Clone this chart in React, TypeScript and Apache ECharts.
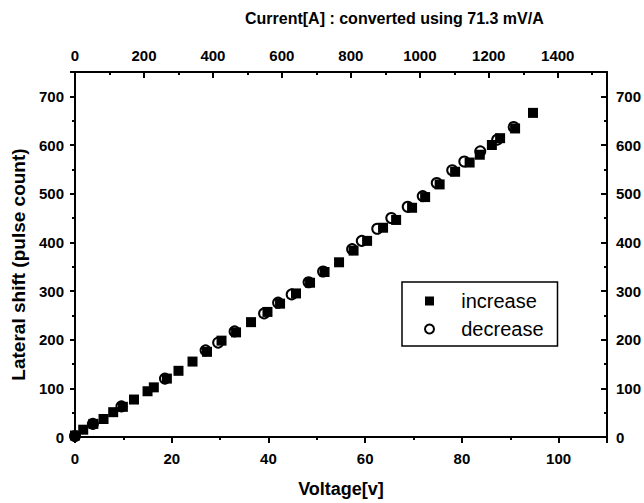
import React, { useEffect, useRef } from 'react';
import * as echarts from 'echarts';

// ---- data ----
const voltageIncrease = [0, 1.7, 3.8, 5.9, 7.9, 9.9, 12.2, 15.0, 16.3, 19.0, 21.4, 24.3, 27.3, 30.3, 33.3, 36.4, 39.8, 42.4, 45.7, 48.6, 51.6, 54.6, 57.6, 60.4, 63.7, 66.4, 69.7, 72.4, 75.4, 78.6, 81.6, 83.7, 86.2, 87.9, 91.0, 94.7];
const shiftIncrease = [3, 15, 27, 37, 51, 62, 77, 94, 102, 120, 136, 155, 175, 198, 215, 236, 257, 274, 295, 317, 339, 359, 383, 403, 430, 446, 471, 493, 519, 545, 564, 580, 600, 614, 634, 666];
const voltageDecrease = [0, 3.7, 9.6, 18.6, 27.0, 29.6, 33.0, 39.1, 42.0, 44.8, 48.3, 51.3, 57.3, 59.3, 62.5, 65.4, 68.8, 71.9, 74.8, 78.0, 80.5, 83.8, 87.3, 90.7];
const shiftDecrease = [2, 27, 63, 120, 178, 194, 217, 254, 276, 293, 318, 340, 386, 403, 428, 450, 473, 495, 522, 548, 566, 587, 611, 637];

const voltageTicks = [0, 20, 40, 60, 80, 100];
const currentTicks = [0, 200, 400, 600, 800, 1000, 1200, 1400];
const shiftTicks = [0, 100, 200, 300, 400, 500, 600, 700];

const MV_PER_A = 71.3;
const VOLT_MAX = 110;
const CURRENT_MAX = VOLT_MAX / (MV_PER_A / 1000);
const SHIFT_MAX = 750;

const FONT = 'Liberation Sans, Arial, Helvetica, sans-serif';

function labelFor(ticks: number[], margin: number) {
  return {
    show: true,
    margin,
    fontFamily: FONT,
    fontSize: 15,
    fontWeight: 'bold' as const,
    color: '#000',
    formatter: (v: number) => (ticks.includes(Math.round(v * 1000) / 1000) ? String(v) : ''),
  };
}

const line = { show: true, onZero: false, lineStyle: { color: '#000', width: 2 } };
const noLine = { show: false, onZero: false };
const nameStyle = { fontFamily: FONT, fontSize: 18, fontWeight: 'bold' as const, color: '#000' };

export default function App() {
  const ref = useRef<HTMLDivElement>(null);
  useEffect(() => {
    if (!ref.current) return;
    const chart = echarts.init(ref.current, null, { renderer: 'svg' });
    const option: any = {
      animation: false,
      backgroundColor: '#fff',
      title: {
        text: 'Current[A] : converted using 71.3 mV/A',
        left: 245,
        top: 10,
        padding: 0,
        textStyle: { fontFamily: FONT, fontSize: 16, fontWeight: 'bold', color: '#000' },
      },
      grid: { left: 75, top: 72, width: 532, height: 372 },
      legend: {
        orient: 'vertical',
        left: 402,
        top: 282,
        padding: [9, 14, 7, 22],
        itemGap: 8,
        itemWidth: 9,
        itemHeight: 9,
        borderColor: '#000',
        borderWidth: 1.5,
        selectedMode: false,
        textStyle: { fontFamily: FONT, fontSize: 20, color: '#000' },
        formatter: (n: string) => '    ' + n,
        data: [
          { name: 'increase', icon: 'rect' },
          { name: 'decrease', icon: 'circle' },
        ],
      },
      xAxis: [
        {
          type: 'value', position: 'bottom', min: 0, max: VOLT_MAX, interval: 20,
          axisLine: line, splitLine: { show: false },
          axisTick: { show: true, inside: false, length: 6, lineStyle: { width: 2, color: '#000' } },
          axisLabel: labelFor(voltageTicks, 14),
          name: 'Voltage[v]', nameLocation: 'middle', nameGap: 43, nameTextStyle: nameStyle,
        },
        {
          type: 'value', position: 'bottom', min: 0, max: VOLT_MAX, interval: 10,
          axisLine: noLine, splitLine: { show: false },
          axisTick: { show: true, inside: false, length: 3, lineStyle: { width: 2, color: '#000' } },
          axisLabel: { show: false },
        },
        {
          type: 'value', position: 'top', min: 0, max: CURRENT_MAX, interval: 200,
          axisLine: line, splitLine: { show: false },
          axisTick: { show: true, inside: true, length: 6, lineStyle: { width: 2, color: '#000' } },
          axisLabel: labelFor(currentTicks, 9),
        },
        {
          type: 'value', position: 'top', min: 0, max: CURRENT_MAX, interval: 100,
          axisLine: noLine, splitLine: { show: false },
          axisTick: { show: true, inside: true, length: 3, lineStyle: { width: 2, color: '#000' } },
          axisLabel: { show: false },
        },
      ],
      yAxis: [
        {
          type: 'value', position: 'left', min: 0, max: SHIFT_MAX, interval: 100,
          axisLine: line, splitLine: { show: false },
          axisTick: { show: true, inside: false, length: 5, lineStyle: { width: 2, color: '#000' } },
          axisLabel: labelFor(shiftTicks, 11),
          name: 'Lateral shift (pulse count)', nameLocation: 'middle', nameGap: 47,
          nameTextStyle: { ...nameStyle, fontSize: 19, padding: [0, 20, 0, 0] },
        },
        {
          type: 'value', position: 'left', min: 0, max: SHIFT_MAX, interval: 50,
          axisLine: noLine, splitLine: { show: false },
          axisTick: { show: true, inside: false, length: 3, lineStyle: { width: 2, color: '#000' } },
          axisLabel: { show: false },
        },
        {
          type: 'value', position: 'right', min: 0, max: SHIFT_MAX, interval: 100,
          axisLine: line, splitLine: { show: false },
          axisTick: { show: true, inside: true, length: 6, lineStyle: { width: 2, color: '#000' } },
          axisLabel: labelFor(shiftTicks, 9),
        },
        {
          type: 'value', position: 'right', min: 0, max: SHIFT_MAX, interval: 50,
          axisLine: noLine, splitLine: { show: false },
          axisTick: { show: true, inside: true, length: 3, lineStyle: { width: 2, color: '#000' } },
          axisLabel: { show: false },
        },
      ],
      series: [
        {
          name: 'decrease', type: 'scatter', xAxisIndex: 0, yAxisIndex: 0, z: 2,
          symbol: 'circle', symbolSize: 10,
          itemStyle: { color: '#fff', borderColor: '#000', borderWidth: 2, opacity: 1 },
          data: voltageDecrease.map((v, i) => [v, shiftDecrease[i]]),
        },
        {
          name: 'increase', type: 'scatter', xAxisIndex: 0, yAxisIndex: 0, z: 3,
          symbol: 'rect', symbolSize: 10,
          itemStyle: { color: '#000', opacity: 1 },
          data: voltageIncrease.map((v, i) => [v, shiftIncrease[i]]),
        },
      ],
    };
    chart.setOption(option);
    return () => chart.dispose();
  }, []);
  return (
    <div
      ref={ref}
      style={{ position: 'fixed', left: 0, top: 0, width: 644, height: 503, background: '#fff' }}
    />
  );
}
